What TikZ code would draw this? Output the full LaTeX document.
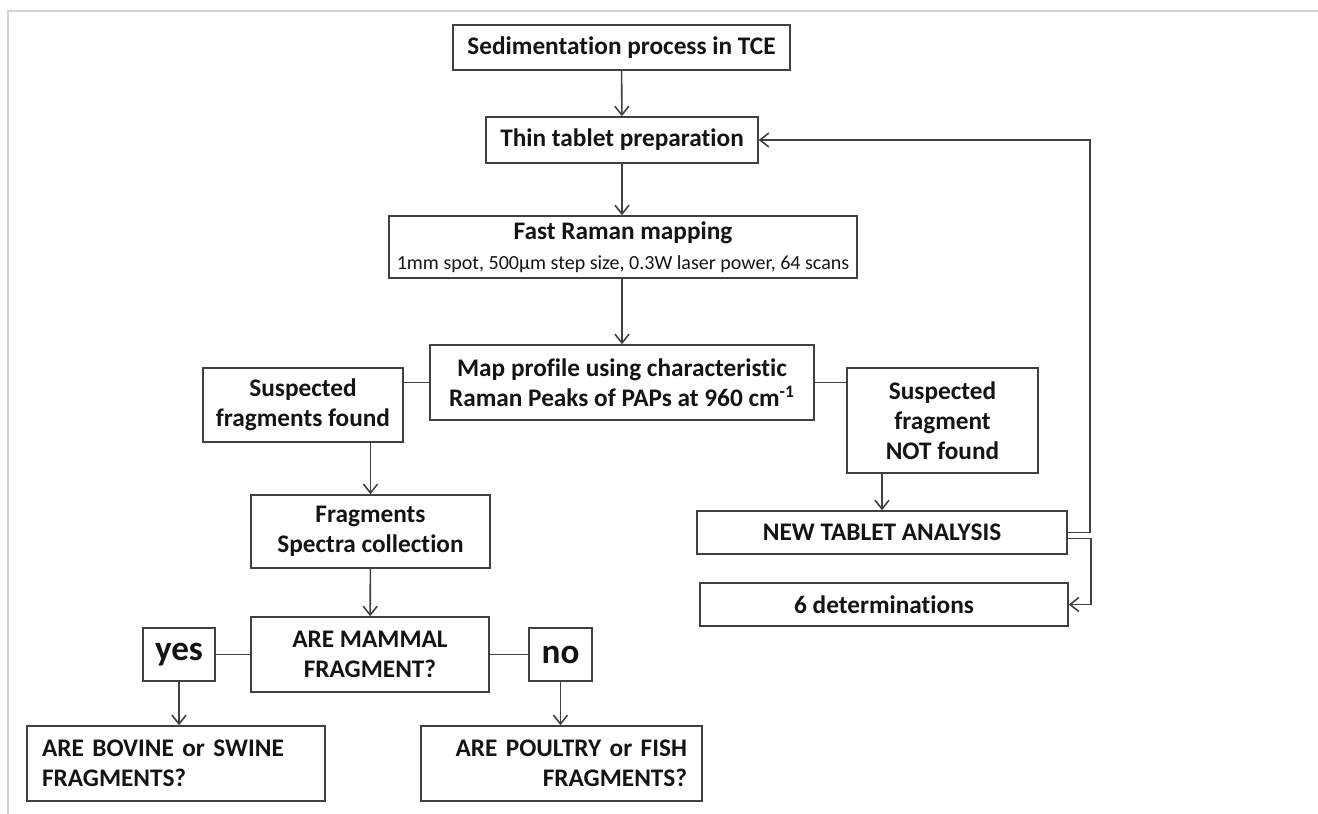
\documentclass[tikz,border=0pt]{standalone}
\usepackage{fontspec}
\setmainfont{Carlito}[Ligatures=NoCommon]
\usetikzlibrary{arrows.meta}
\begin{document}
\begin{tikzpicture}[x=0.02cm, y=-0.02cm,
  every node/.style={font=\fontsize{14.4}{17}\selectfont\bfseries, text=black!92},
  box/.style={draw=black!75, line width=0.9pt, inner sep=1pt, align=center},
  wh/.style 2 args={minimum width=#1*0.02cm, minimum height=#2*0.02cm},
  link/.style={draw=black!75, line width=0.9pt},
  flow/.style={link, -{Straight Barb[length=5pt,width=8pt]}}]
  \useasboundingbox (0,0) rectangle (1318,814);
  \draw[black!17, line width=1.2pt] (8,814) -- (8,11) -- (1318,11);
  \node[box, wh={337}{45}] (sed) at (621.5,47.5) {Sedimentation process in TCE};
  \node[box, wh={272}{46}] (thin) at (622,140) {Thin tablet preparation};
  \node[box, wh={468}{62}] (fast) at (623,247) {Fast Raman mapping\\[0pt]
    {\fontsize{11.4}{14}\selectfont\mdseries 1mm spot, 500µm step size, 0.3W laser power, 64 scans}};
  \node[box, wh={384}{75}] (map) at (622,382.5) {Map profile using characteristic\\Raman Peaks of PAPs at 960 cm\textsuperscript{-1}};
  \node[box, wh={200}{74}] (susp) at (303,405) {Suspected\\fragments found};
  \node[box, wh={191}{105}] (notf) at (942.5,420.5) {Suspected\\fragment\\NOT found};
  \node[box, wh={239}{73}] (frag) at (370.5,531.5) {Fragments\\Spectra collection};
  \node[box, wh={370}{43}] (newtab) at (882,532.5) {NEW TABLET ANALYSIS};
  \node[box, wh={368}{43}] (det) at (884,604.5) {6 determinations};
  \node[box, wh={238}{75}] (mammal) at (370,654.5) {ARE MAMMAL\\FRAGMENT?};
  \node[box, wh={72}{53}, font=\fontsize{20}{23}\selectfont\bfseries] (yes) at (179,654.5) {yes};
  \node[box, wh={63}{53}, font=\fontsize{20}{23}\selectfont\bfseries] (no) at (560.5,654.5) {no};
  \node[box, minimum height=75*0.02cm, inner xsep=15*0.02cm, text width=268*0.02cm, align=left] (bovine) at (176,763.5) {ARE BOVINE or SWINE\\FRAGMENTS?};
  \node[box, minimum height=75*0.02cm, inner xsep=15*0.02cm, text width=251*0.02cm, align=right] (poultry) at (561.5,763.5) {ARE POULTRY or FISH\\FRAGMENTS?};
  \draw[flow] (sed) -- (thin);
  \draw[flow] (thin) -- (thin |- fast.north);
  \draw[flow] (thin |- fast.south) -- (thin |- map.north);
  \draw[link] (map.west) -- (map.west -| susp.east);
  \draw[link] (map.east) -- (map.east -| notf.west);
  \draw[flow] (frag.north |- susp.south) -- (frag.north);
  \draw[flow] (newtab.north |- notf.south) -- (newtab.north);
  \draw[flow] (frag) -- (mammal);
  \draw[link] (mammal.west) -- (yes.east);
  \draw[link] (mammal.east) -- (no.west);
  \draw[flow] (yes.south) -- (yes.south |- bovine.north);
  \draw[flow] (no.south) -- (no.south |- poultry.north);
  \draw[flow] (newtab.east) -- ++(22,0) |- (thin.east);
  \draw[flow] ([yshift=-3.4pt]newtab.east) -- ++(23,0) |- (det.east);
\end{tikzpicture}
\end{document}
